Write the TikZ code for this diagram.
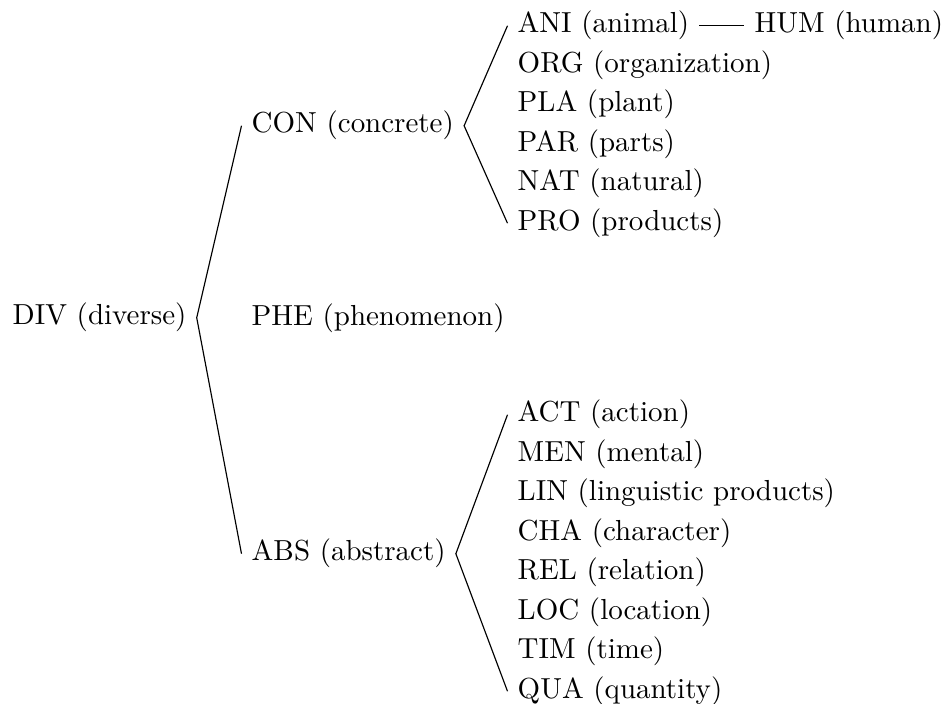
\documentclass[tikz,border=0pt]{standalone}
\begin{document}
\begin{tikzpicture}[x=0.345pt,y=-0.345pt,
  lbl/.style={anchor=base west, text height=7.5pt, text depth=2.5pt, inner sep=0.3333em},
  link/.style={draw=black, line width=0.4pt}]
\useasboundingbox (0,0) rectangle (945,704);
% level 0 and 1
\node[lbl] (div) at (2.5,325) {DIV (diverse)};
\node[lbl] (con) at (241.5,133) {CON (concrete)};
\node[lbl] (phe) at (241.5,326) {PHE (phenomenon)};
\node[lbl] (abs) at (241.5,561) {ABS (abstract)};
% concrete children
\node[lbl] (ani) at (507.5,33)    {ANI (animal)};
\node[lbl] (hum) at ([xshift=15.5pt]ani.base east) {HUM (human)};
\node[lbl] (org) at (507.5,72.5)  {ORG (organization)};
\node[lbl] (pla) at (507.5,112)   {PLA (plant)};
\node[lbl] (par) at (507.5,151.5) {PAR (parts)};
\node[lbl] (nat) at (507.5,191)   {NAT (natural)};
\node[lbl] (pro) at (507.5,230.5) {PRO (products)};
% abstract children
\node[lbl] (act) at (507.5,422)   {ACT (action)};
\node[lbl] (men) at (507.5,461.5) {MEN (mental)};
\node[lbl] (lin) at (507.5,501)   {LIN (linguistic products)};
\node[lbl] (cha) at (507.5,540.5) {CHA (character)};
\node[lbl] (rel) at (507.5,580)   {REL (relation)};
\node[lbl] (loc) at (507.5,619.5) {LOC (location)};
\node[lbl] (tim) at (507.5,659)   {TIM (time)};
\node[lbl] (qua) at (507.5,698.5) {QUA (quantity)};
% connectors
\path[link] (con.west) -- (div.east) -- (abs.west);
\path[link] (ani.west) -- (con.east) -- (pro.west);
\path[link] (act.west) -- (abs.east) -- (qua.west);
\path[link] (ani.east) -- (hum.west);
\end{tikzpicture}
\end{document}
